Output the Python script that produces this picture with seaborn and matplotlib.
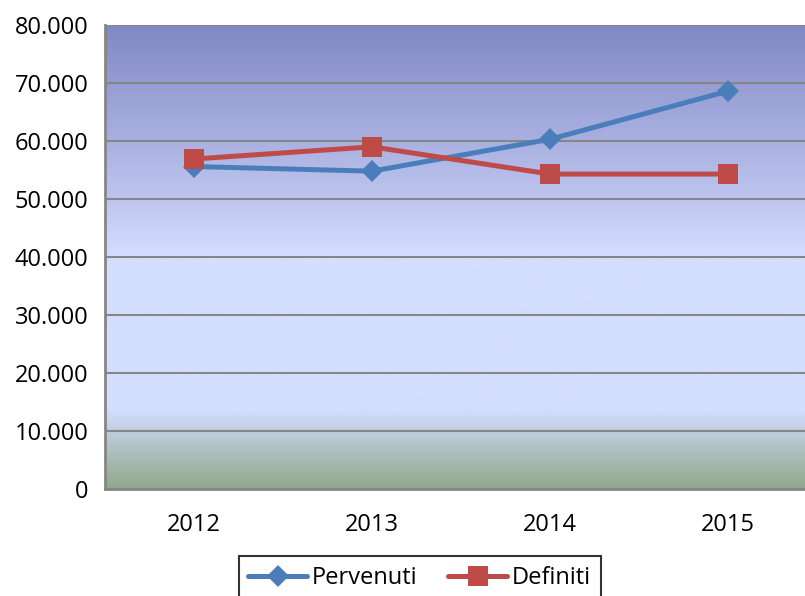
import numpy as np
import pandas as pd
import matplotlib.pyplot as plt
from matplotlib.ticker import FuncFormatter
import seaborn as sns

sns.set_style('white')
plt.rcParams['font.family'] = ['Open Sans', 'DejaVu Sans']
plt.rcParams['text.color'] = 'black'
plt.rcParams['xtick.labelcolor'] = 'black'
plt.rcParams['ytick.labelcolor'] = 'black'

years = ['2012', '2013', '2014', '2015']
pervenuti = [55600, 54800, 60300, 68600]
definiti = [56900, 59000, 54300, 54300]

BLUE = '#4A7EBB'
RED = '#BE4B48'
GRID = '#868686'

df = pd.DataFrame({'anno': years, 'Pervenuti': pervenuti, 'Definiti': definiti})
df['x'] = np.arange(len(years))

fig = plt.figure(figsize=(8.05, 5.96), dpi=100)
ax = fig.add_axes([105 / 805, 107 / 596, 712 / 805, 464 / 596])

# background gradient (bottom -> top)
stops = [(0.00, (143, 168, 140)), (0.10, (182, 198, 204)), (0.17, (212, 222, 255)),
         (0.50, (212, 222, 255)), (0.62, (190, 198, 240)), (1.00, (130, 136, 196))]
t = np.linspace(0, 1, 300)
grad = np.zeros((300, 1, 3))
for c in range(3):
    grad[:, 0, c] = np.interp(t, [s[0] for s in stops], [s[1][c] / 255 for s in stops])
ax.imshow(grad, origin='lower', aspect='auto', extent=(-0.5, 3.5, 0, 80000), zorder=0)

sns.lineplot(data=df, x='x', y='Pervenuti', ax=ax, color=BLUE, lw=3.6, marker='D',
             markersize=11, markeredgewidth=0, label='Pervenuti', zorder=3)
sns.lineplot(data=df, x='x', y='Definiti', ax=ax, color=RED, lw=3.6, marker='s',
             markersize=14, markeredgewidth=0, label='Definiti', zorder=4)

ax.set_xlim(-0.5, 3.5)
ax.set_ylim(0, 80000)
ax.set_yticks(np.arange(0, 80001, 10000))
ax.yaxis.set_major_formatter(FuncFormatter(lambda v, p: f'{int(v):,}'.replace(',', '.')))
ax.set_xticks(df['x'])
ax.set_xticklabels(years)
ax.set_xticks(np.arange(-0.5, 4, 1), minor=True)
ax.tick_params(axis='x', which='major', length=0, pad=17, labelsize=17)
ax.tick_params(axis='x', which='minor', length=7, width=1.5, color=GRID, direction='out')
ax.tick_params(axis='y', length=7, width=1.5, color=GRID, direction='out', labelsize=17, pad=5)
ax.grid(axis='y', color=GRID, lw=1.5, zorder=1)
ax.grid(axis='x', visible=False)
ax.set_axisbelow(False)
for s in ['top', 'right']:
    ax.spines[s].set_visible(False)
for s in ['left', 'bottom']:
    ax.spines[s].set_color(GRID)
    ax.spines[s].set_linewidth(2)
ax.set_xlabel('')
ax.set_ylabel('')

leg = ax.legend(loc='upper center', bbox_to_anchor=(0.442, -0.12), ncol=2, fontsize=17,
                frameon=True, fancybox=False, handlelength=2.5, borderpad=0.4,
                columnspacing=1.3, handletextpad=0.2)
leg.get_frame().set_edgecolor('black')
leg.get_frame().set_linewidth(1.5)

fig.savefig('out.png', dpi=100)
